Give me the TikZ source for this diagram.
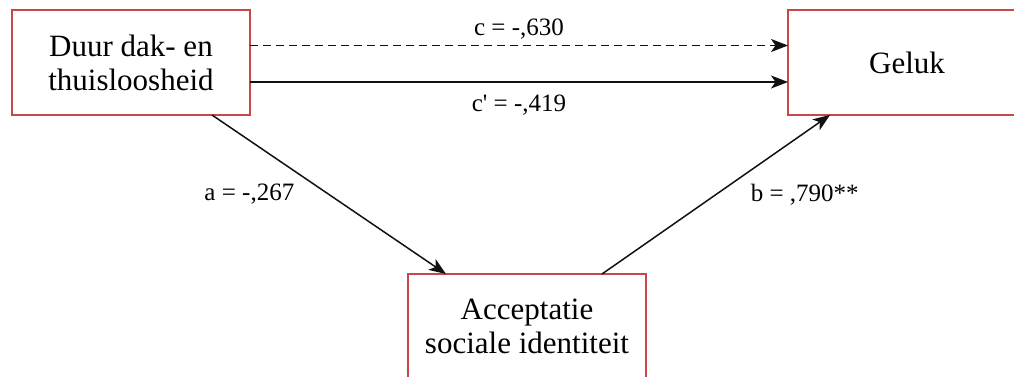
\documentclass[tikz,border=0pt]{standalone}
\usepackage{fontspec}
\setmainfont{Liberation Serif}
\usepackage{xcolor}
\definecolor{boxRed}{HTML}{C8484A}
\definecolor{lineBlack}{HTML}{111111}
\usepackage{tikz}
\usetikzlibrary{
    arrows.meta,
    positioning
}
\tikzset{
    % Variable boxes - plain rectangle with red border
    varbox/.style={
        rectangle,
        draw=boxRed,
        line width=1.4pt,
        outer sep=0pt,
        fill=white,
        align=center,
        minimum width=238pt,
        minimum height=105pt,
        font=\fontsize{31}{34}\selectfont,
    },
    % Path arrow - thin black line
    patharrow/.style={
        -{Stealth[length=17pt, width=13pt, inset=4.5pt]},
        line width=1.5pt,
        draw=lineBlack,
    },
    % Dashed arrow variant for total effect
    patharrow dashed/.style={
        patharrow,
        dash pattern=on 8pt off 5pt,
    },
    % Coefficient labels
    coef/.style={
        font=\fontsize{25}{28}\selectfont,
        inner sep=2pt,
    },
}

\begin{document}
\begin{tikzpicture}[x=1pt, y=1pt]
    \useasboundingbox (0,0) rectangle (1014,376);
    \clip (0,0) rectangle (1014,376);
    \node (duur) [varbox] at (131,313.5) {Duur dak- en\\thuisloosheid};
    \node (geluk) [varbox, right=538pt of duur] {Geluk};
    \node (accept) [varbox, below right=159pt and 158pt of duur.south east, anchor=north west] {Acceptatie\\sociale identiteit};

    \draw [patharrow dashed] ([yshift=17pt]duur.east) -- node[coef, above=3pt] {c = -,630} ([yshift=17pt]geluk.west);
    \draw [patharrow] ([yshift=-19.5pt]duur.east) -- node[coef, below=10pt] {c\textquotesingle{} = -,419} ([yshift=-19.5pt]geluk.west);
    \draw [patharrow] ([xshift=81pt]duur.south) -- node[coef, midway, left=32pt] {a = -,267} ([xshift=-81pt]accept.north);
    \draw [patharrow] ([xshift=75pt]accept.north) -- node[coef, midway, right=32pt] {b = ,790**} ([xshift=-77pt]geluk.south);
\end{tikzpicture}
\end{document}
